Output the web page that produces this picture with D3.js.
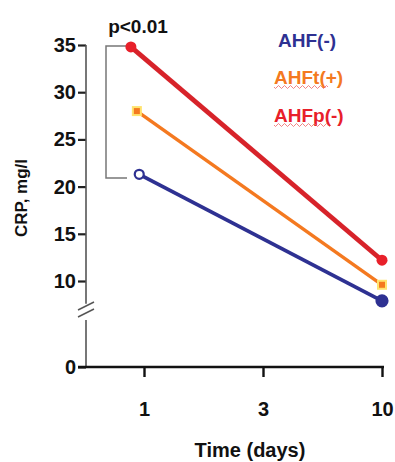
<!DOCTYPE html>
<html>
<head>
<meta charset="utf-8">
<script src="https://cdn.jsdelivr.net/npm/d3@7"></script>
<style>
  body { margin: 0; background: #fff; }
  svg { display: block; font-family: "Liberation Sans", Arial, sans-serif; font-weight: bold; }
</style>
</head>
<body>
<svg width="395" height="462"></svg>
<script>
// categories on the x axis (equally spaced)
var days = ["1", "3", "10"];
// x position of each point in category units (day-1 points are slightly dodged)
var xRed = [-0.11, 2.0];
var xOrange = [-0.06, 2.0];
var xBlue = [-0.04, 2.0];
// CRP values, mg/l
var redValues = [34.8, 12.2];
var orangeValues = [28.0, 9.6];
var blueValues = [21.3, 7.9];
var yTicksTop = [10, 15, 20, 25, 30, 35];
var yTicksBottom = [0];
var legendLabels = ["AHF(-)", "AHFt(+)", "AHFp(-)"];
var pLabel = "p<0.01";

var svg = d3.select("svg");

// Scales
var xScale = d3.scaleLinear().domain([0, 2]).range([144, 382]);
var yTop = d3.scaleLinear().domain([10, 35]).range([281, 45]);
var yBottom = d3.scaleLinear().domain([0, 5]).range([367, 320]);

var axisX = 86;

// y axis - upper segment
var yAxisTop = d3.axisLeft(yTop)
    .tickValues(yTicksTop)
    .tickFormat(d3.format("d"))
    .tickSize(8)
    .tickPadding(2);
var gyt = svg.append("g")
    .attr("transform", "translate(" + axisX + ",0)")
    .call(yAxisTop);
gyt.select(".domain").remove();
gyt.append("line")
    .attr("x1", 0).attr("x2", 0)
    .attr("y1", yTop(35)).attr("y2", yTop(7.6))
    .attr("stroke", "#555").attr("stroke-width", 1.6);

// y axis - lower segment
var yAxisBottom = d3.axisLeft(yBottom)
    .tickValues(yTicksBottom)
    .tickFormat(d3.format("d"))
    .tickSize(8)
    .tickPadding(2);
var gyb = svg.append("g")
    .attr("transform", "translate(" + axisX + ",0)")
    .call(yAxisBottom);
gyb.select(".domain").remove();
gyb.append("line")
    .attr("x1", 0).attr("x2", 0)
    .attr("y1", yBottom(5)).attr("y2", yBottom(0))
    .attr("stroke", "#555").attr("stroke-width", 1.6);

svg.selectAll(".tick line").attr("stroke", "#222").attr("stroke-width", 2.2);
svg.selectAll(".tick text")
    .attr("font-size", "20px")
    .attr("font-weight", "bold")
    .attr("fill", "#111")
    .attr("font-family", "Liberation Sans, Arial, sans-serif");

// axis break marks
[0, 7].forEach(function (off) {
    svg.append("line")
        .attr("x1", axisX - 8).attr("y1", 310 + off)
        .attr("x2", axisX + 8).attr("y2", 302 + off)
        .attr("stroke", "#555").attr("stroke-width", 1.4);
});

// x axis
var xAxis = d3.axisBottom(xScale)
    .tickValues([0, 1, 2])
    .tickFormat(function (d, i) { return days[i]; })
    .tickSize(10)
    .tickPadding(25)
    .tickSizeOuter(0);
var gx = svg.append("g")
    .attr("transform", "translate(0," + yBottom(0) + ")")
    .call(xAxis);
gx.select(".domain").remove();
gx.append("line")
    .attr("x1", axisX - 8).attr("x2", 384)
    .attr("y1", 0).attr("y2", 0)
    .attr("stroke", "#111").attr("stroke-width", 2.6);
gx.selectAll(".tick line").attr("stroke", "#111").attr("stroke-width", 2.4);
gx.selectAll(".tick text")
    .attr("font-size", "20px")
    .attr("font-weight", "bold")
    .attr("fill", "#111");

// axis titles
svg.append("text")
    .attr("x", 250).attr("y", 457)
    .attr("text-anchor", "middle")
    .attr("font-size", "20px")
    .attr("fill", "#111")
    .text("Time (days)");

svg.append("text")
    .attr("transform", "translate(27,198) rotate(-90)")
    .attr("text-anchor", "middle")
    .attr("font-size", "17px")
    .attr("fill", "#111")
    .text("CRP, mg/l");

// significance bracket
var bx = 106;
svg.append("path")
    .attr("d", "M" + (bx + 21) + "," + yTop(34.9) + "H" + bx + "V" + yTop(20.9) + "H" + (bx + 21))
    .attr("fill", "none")
    .attr("stroke", "#777")
    .attr("stroke-width", 1.5);
svg.append("text")
    .attr("x", 138).attr("y", 33)
    .attr("text-anchor", "middle")
    .attr("font-size", "19px")
    .attr("fill", "#111")
    .text(pLabel);

// series lines
var line = d3.line()
    .x(function (d) { return xScale(d[0]); })
    .y(function (d) { return yTop(d[1]); });

var series = [
    { x: xBlue, v: blueValues, color: "#2e3192", w: 3.8 },
    { x: xOrange, v: orangeValues, color: "#f47920", w: 3.4 },
    { x: xRed, v: redValues, color: "#d7232a", w: 4.8 }
];

series.forEach(function (s) {
    var pts = s.v.map(function (v, i) { return [s.x[i], v]; });
    svg.append("path")
        .datum(pts)
        .attr("d", line)
        .attr("fill", "none")
        .attr("stroke", s.color)
        .attr("stroke-width", s.w);
});

// markers
// blue: open circle at day 1, filled at day 10
svg.selectAll(".blueDot")
    .data(blueValues)
    .enter()
    .append("circle")
    .attr("cx", function (d, i) { return xScale(xBlue[i]); })
    .attr("cy", function (d) { return yTop(d); })
    .attr("r", function (d, i) { return i === 0 ? 4.5 : 5.5; })
    .attr("fill", function (d, i) { return i === 0 ? "#fff" : "#2e3192"; })
    .attr("stroke", "#2e3192")
    .attr("stroke-width", 2.2);

// orange: square with yellow edge
svg.selectAll(".orangeDot")
    .data(orangeValues)
    .enter()
    .append("rect")
    .attr("x", function (d, i) { return xScale(xOrange[i]) - 4; })
    .attr("y", function (d) { return yTop(d) - 4; })
    .attr("width", 8)
    .attr("height", 8)
    .attr("fill", "#f47920")
    .attr("stroke", "#ffe36e")
    .attr("stroke-width", 2);

// red: filled circle
svg.selectAll(".redDot")
    .data(redValues)
    .enter()
    .append("circle")
    .attr("cx", function (d, i) { return xScale(xRed[i]); })
    .attr("cy", function (d) { return yTop(d); })
    .attr("r", 5.5)
    .attr("fill", "#e8202a");

// legend
var legendColors = ["#2e3192", "#f47920", "#e8202a"];
var legendX = [278, 274, 274];
var legendY = [47, 84, 122];
legendLabels.forEach(function (lab, i) {
    svg.append("text")
        .attr("x", legendX[i]).attr("y", legendY[i])
        .attr("font-size", "19px")
        .attr("fill", legendColors[i])
        .text(lab);
    if (i > 0) {
        // spell-check style wavy underline under the word
        var w = i === 1 ? 54 : 56;
        var d = "M" + legendX[i] + "," + (legendY[i] + 3);
        for (var k = 0; k < w; k += 3) {
            d += "l1.5," + (k % 6 === 0 ? 1.5 : -1.5) + "l1.5," + (k % 6 === 0 ? -1.5 : 1.5);
        }
        svg.append("path")
            .attr("d", d)
            .attr("fill", "none")
            .attr("stroke", "#e66")
            .attr("stroke-width", 0.8);
    }
});
</script>
</body>
</html>
